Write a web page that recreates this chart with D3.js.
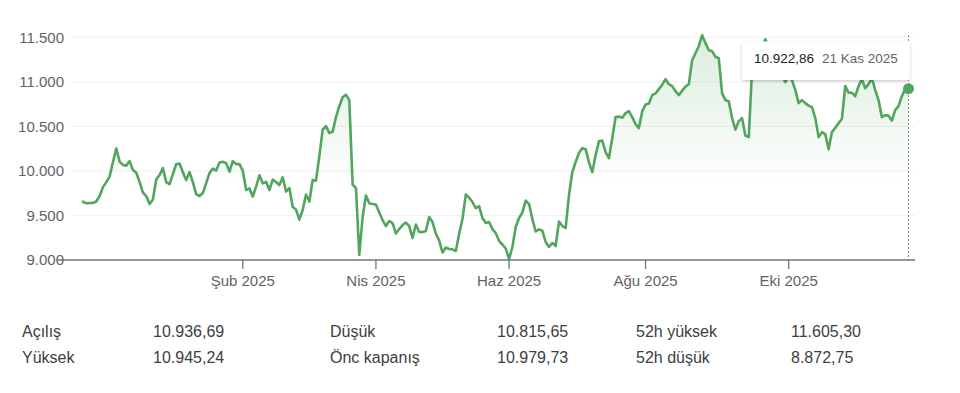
<!DOCTYPE html>
<html>
<head>
<meta charset="utf-8">
<script src="https://cdn.jsdelivr.net/npm/d3@7"></script>
<style>
  html, body { margin: 0; padding: 0; background: #fff; }
  svg { display: block; font-family: "Liberation Sans", Arial, Helvetica, sans-serif; }
</style>
</head>
<body>
<svg id="chart" width="960" height="393"></svg>
<script>
// ---- Data ----
const startDate = "2024-11-26";
const holidays = ["2025-01-01","2025-03-31","2025-04-01","2025-04-23","2025-05-01","2025-05-19","2025-06-06","2025-06-09","2025-07-15","2025-10-29"];
const values = [
  9654,9636,9640,9640,9656,9718,9818,9874,9936,10099,
  10250,10104,10067,10059,10110,10009,9981,9874,9757,9717,
  9628,9678,9903,9953,10031,9874,9852,9964,10074,10083,
  9986,9897,9986,9874,9738,9717,9751,9863,9975,10026,
  10003,10095,10102,10087,9992,10108,10076,10076,10003,9785,
  9803,9712,9824,9951,9860,9877,9785,9903,9875,9841,
  9927,9768,9807,9594,9566,9454,9561,9735,9656,9897,
  9891,10166,10463,10502,10424,10440,10603,10726,10827,10855,
  10794,9847,9807,9056,9482,9723,9636,9628,9622,9532,
  9448,9381,9437,9415,9297,9347,9392,9420,9381,9247,
  9398,9314,9314,9325,9482,9426,9297,9219,9084,9140,
  9123,9120,9101,9291,9460,9734,9700,9650,9583,9605,
  9471,9415,9426,9347,9303,9213,9174,9129,9011,9146,
  9370,9471,9532,9667,9628,9459,9320,9344,9328,9202,
  9146,9191,9157,9431,9381,9359,9729,9986,10099,10200,
  10255,10244,10099,9986,10177,10334,10339,10211,10143,10368,
  10603,10609,10597,10648,10670,10603,10525,10480,10670,10745,
  10757,10850,10869,10917,10967,11029,10973,10951,10894,10850,
  10900,10945,10973,11242,11320,11399,11522,11433,11354,11343,
  11281,11264,10872,10794,10782,10592,10463,10558,10592,10395,
  10379,11130,11220,11298,11377,11477,11354,11264,11220,11130,
  11074,10995,11063,11018,10906,10760,10794,10760,10732,10715,
  10592,10379,10435,10412,10244,10435,10485,10536,10586,10951,
  10878,10877,10838,10951,11029,10928,10973,11040,10906,10794,
  10603,10625,10620,10564,10682,10726,10838,10917,10922.86
];
const yTicks = [9000, 9500, 10000, 10500, 11000, 11500];
const tickMonths = ["2025-02", "2025-04", "2025-06", "2025-08", "2025-10"];
const tickLabels = ["Şub 2025", "Nis 2025", "Haz 2025", "Ağu 2025", "Eki 2025"];
const monthNames = ["Oca","Şub","Mar","Nis","May","Haz","Tem","Ağu","Eyl","Eki","Kas","Ara"];
const statLabels1 = ["Açılış", "Düşük", "52h yüksek"];
const statValues1 = ["10.936,69", "10.815,65", "11.605,30"];
const statLabels2 = ["Yüksek", "Önc kapanış", "52h düşük"];
const statValues2 = ["10.945,24", "10.979,73", "8.872,75"];

// ---- Trading dates ----
const dates = [];
{
  let t = Date.parse(startDate + "T00:00:00Z");
  const hol = new Set(holidays);
  while (dates.length < values.length) {
    const d = new Date(t);
    const iso = d.toISOString().slice(0, 10);
    const wd = d.getUTCDay();
    if (wd !== 0 && wd !== 6 && !hol.has(iso)) dates.push(iso);
    t += 86400000;
  }
}
const data = values.map((v, i) => ({ i, v, date: dates[i] }));

// ---- Chart ----
const tr = d3.formatLocale({ decimal: ",", thousands: ".", grouping: [3], currency: ["", "₺"] });
const fmtInt = tr.format(",.0f");
const fmt2 = tr.format(",.2f");

const svg = d3.select("#chart");
const green = "#52a55c";

const x = d3.scaleLinear().domain([0, values.length - 1]).range([83, 908.5]);
const y = d3.scaleLinear().domain([9000, 11500]).range([260, 37.2]);

const defs = svg.append("defs");
const grad = defs.append("linearGradient")
  .attr("id", "areaGrad").attr("gradientUnits", "userSpaceOnUse")
  .attr("x1", 0).attr("x2", 0).attr("y1", y(11500)).attr("y2", y(9800));
grad.append("stop").attr("offset", 0).attr("stop-color", green).attr("stop-opacity", 0.2);
grad.append("stop").attr("offset", 1).attr("stop-color", green).attr("stop-opacity", 0);

const shadow = defs.append("filter").attr("id", "shadow")
  .attr("x", "-10%").attr("y", "-30%").attr("width", "120%").attr("height", "160%");
shadow.append("feDropShadow").attr("dx", 0).attr("dy", 1).attr("stdDeviation", 1.6)
  .attr("flood-color", "#000").attr("flood-opacity", 0.22);

// gridlines
svg.append("g").selectAll("line")
  .data(yTicks.filter(t => t !== 9000))
  .join("line")
  .attr("x1", 70).attr("x2", 915)
  .attr("y1", d => y(d)).attr("y2", d => y(d))
  .attr("stroke", "#f0f0f0").attr("stroke-width", 1);

// y labels
svg.append("g").selectAll("text")
  .data(yTicks)
  .join("text")
  .attr("x", 64).attr("y", d => y(d)).attr("dy", "0.36em")
  .attr("text-anchor", "end")
  .attr("font-size", 15).attr("fill", "#5f6368")
  .text(d => fmtInt(d));

// area + line
const area = d3.area().x(d => x(d.i)).y0(y(9000)).y1(d => y(d.v));
svg.append("path").datum(data).attr("d", area).attr("fill", "url(#areaGrad)");

const line = d3.line().x(d => x(d.i)).y(d => y(d.v));
svg.append("path").datum(data).attr("d", line)
  .attr("fill", "none").attr("stroke", green).attr("stroke-width", 2.6)
  .attr("stroke-linejoin", "round").attr("stroke-linecap", "round");

// x axis
svg.append("line").attr("x1", 57).attr("x2", 915)
  .attr("y1", y(9000)).attr("y2", y(9000))
  .attr("stroke", "#70757a").attr("stroke-width", 1.3);

const ticks = tickMonths.map((m, k) => ({ idx: dates.findIndex(d => d.startsWith(m)), label: tickLabels[k] }));
const tg = svg.append("g").selectAll("g").data(ticks).join("g")
  .attr("transform", d => `translate(${x(d.idx)},0)`);
tg.append("line").attr("y1", y(9000)).attr("y2", y(9000) + 9)
  .attr("stroke", "#70757a").attr("stroke-width", 1.3);
tg.append("text").attr("y", 286).attr("text-anchor", "middle")
  .attr("font-size", 15).attr("fill", "#5f6368")
  .text(d => d.label);

// hover marker
const last = data[data.length - 1];
svg.append("line")
  .attr("x1", x(last.i)).attr("x2", x(last.i))
  .attr("y1", 35).attr("y2", y(9000))
  .attr("stroke", "#80868b").attr("stroke-width", 1).attr("stroke-dasharray", "2,2");
svg.append("circle").attr("cx", x(last.i)).attr("cy", y(last.v)).attr("r", 5.5).attr("fill", green);

// tooltip
const lastDate = new Date(last.date + "T00:00:00Z");
const dateStr = `${lastDate.getUTCDate()} ${monthNames[lastDate.getUTCMonth()]} ${lastDate.getUTCFullYear()}`;
const tip = svg.append("g");
tip.append("rect").attr("x", 742).attr("y", 41.5).attr("width", 168).attr("height", 38.5)
  .attr("rx", 2).attr("fill", "#fff").attr("filter", "url(#shadow)");
tip.append("text").attr("x", 754).attr("y", 62).attr("dy", "0.1em")
  .attr("font-size", 13.5).attr("fill", "#202124").attr("font-weight", 500)
  .text(fmt2(last.v));
tip.append("text").attr("x", 822).attr("y", 62).attr("dy", "0.1em")
  .attr("font-size", 13.5).attr("fill", "#5f6368")
  .text(dateStr);

// stats table
const colLabelX = [22, 330, 636];
const colValueX = [153, 497, 791];
const rows = [
  { yy: 331, labels: statLabels1, vals: statValues1 },
  { yy: 357, labels: statLabels2, vals: statValues2 }
];
rows.forEach(r => {
  r.labels.forEach((l, k) => {
    svg.append("text").attr("x", colLabelX[k]).attr("y", r.yy).attr("dy", "0.36em")
      .attr("font-size", 16).attr("fill", "#3c4043").text(l);
    svg.append("text").attr("x", colValueX[k]).attr("y", r.yy).attr("dy", "0.36em")
      .attr("font-size", 16).attr("fill", "#3c4043").text(r.vals[k]);
  });
});
</script>
</body>
</html>
